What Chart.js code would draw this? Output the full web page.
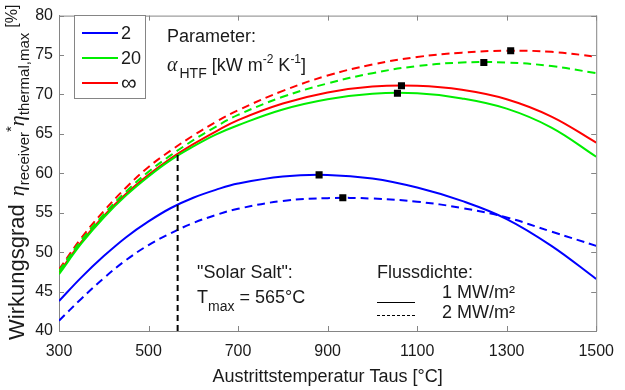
<!DOCTYPE html>
<html>
<head>
<meta charset="utf-8">
<script src="https://cdn.jsdelivr.net/npm/chart.js@4.4.1/dist/chart.umd.min.js"></script>
<style>
  html, body { margin: 0; padding: 0; background: #fff; }
  #wrap { width: 625px; height: 390px; }
</style>
</head>
<body>
<div id="wrap"><canvas id="chart" width="625" height="390"></canvas></div>
<script>
// Austrittstemperatur Taus in °C
const temps = [300, 350, 400, 450, 500, 550, 600, 650, 700, 800, 900, 1000, 1100, 1200, 1300, 1400, 1500];

// Wirkungsgrad in %, Flussdichte 1 MW/m² (durchgezogen)
const blue1  = [43.8, 46.8, 49.5, 51.9, 53.9, 55.6, 56.9, 57.9, 58.7, 59.6, 59.8, 59.35, 58.2, 56.5, 54.2, 50.8, 46.6];
const green1 = [47.2, 51.1, 54.4, 57.2, 59.6, 61.7, 63.4, 64.9, 66.1, 68.1, 69.4, 70.1, 70.15, 69.5, 68.2, 65.8, 62.1];
const red1   = [47.4, 51.3, 54.6, 57.4, 59.8, 61.9, 63.7, 65.3, 66.75, 68.85, 70.25, 71.0, 71.1, 70.6, 69.4, 67.2, 63.9];
// Flussdichte 2 MW/m² (gestrichelt)
const blue2  = [41.3, 44.1, 46.7, 49.0, 50.9, 52.4, 53.7, 54.7, 55.5, 56.5, 56.85, 56.8, 56.4, 55.6, 54.4, 52.6, 50.8];
const green2 = [47.6, 51.5, 54.8, 57.7, 60.2, 62.3, 64.2, 65.9, 67.4, 69.7, 71.4, 72.7, 73.6, 74.05, 74.05, 73.6, 72.7];
const red2   = [47.8, 51.8, 55.2, 58.2, 60.8, 62.9, 64.8, 66.5, 68.0, 70.45, 72.4, 73.8, 74.75, 75.3, 75.55, 75.4, 74.8];

// Maxima (schwarze Quadrate)
const maxT   = [881, 934, 1056, 1065, 1249, 1309];
const maxEta = [59.8, 56.9, 70.15, 71.1, 74.05, 75.55];

// Solar Salt Tmax
const saltT = [565, 565];
const saltEta = [40, 62.4];

const xTicks = [300, 500, 700, 900, 1100, 1300, 1500];
const yTicks = [40, 45, 50, 55, 60, 65, 70, 75, 80];

const alphaLabels = ['2', '20', '\u221E'];
const fluxLabels = ['1 MW/m\u00B2', '2 MW/m\u00B2'];

const BLUE = '#0000ff', GREEN = '#00ee00', RED = '#ff0000';
const axisGrey = '#858585';
const txt = '#1a1a1a';
const SANS = '"Liberation Sans", Arial, sans-serif';
const SERIF = '"Liberation Serif", "Times New Roman", serif';

Chart.defaults.font.family = SANS;

const pts = (xs, ys) => xs.map((x, i) => ({ x: x, y: ys[i] }));

function curve(label, ys, color, dashed) {
    return {
        label: label,
        data: pts(temps, ys),
        borderColor: color,
        borderWidth: 2,
        borderDash: dashed ? [8, 5] : [],
        pointRadius: 0,
        tension: 0.4,
        fill: false
    };
}

// schreibt Text mit Hoch-/Tiefstellungen stueckweise
function rich(ctx, x, y, parts) {
    for (const p of parts) {
        ctx.font = p.f;
        ctx.fillText(p.t, x, y + (p.dy || 0));
        x += ctx.measureText(p.t).width + (p.gap || 0);
    }
}

const extras = {
    id: 'extras',
    afterDraw(chart) {
        const ctx = chart.ctx;
        const a = chart.chartArea;
        const xs = chart.scales.x, ys = chart.scales.y;
        ctx.save();

        // Rahmen oben/rechts + Ticks nach innen
        ctx.strokeStyle = axisGrey;
        ctx.lineWidth = 1;
        ctx.beginPath();
        ctx.moveTo(a.left, a.top + 0.5); ctx.lineTo(a.right + 0.5, a.top + 0.5);
        ctx.moveTo(a.right + 0.5, a.top); ctx.lineTo(a.right + 0.5, a.bottom);
        xTicks.forEach(v => {
            const px = Math.round(xs.getPixelForValue(v)) + 0.5;
            ctx.moveTo(px, a.bottom); ctx.lineTo(px, a.bottom - 5);
            ctx.moveTo(px, a.top); ctx.lineTo(px, a.top + 5);
        });
        yTicks.forEach(v => {
            const py = Math.round(ys.getPixelForValue(v)) + 0.5;
            ctx.moveTo(a.left, py); ctx.lineTo(a.left + 5, py);
            ctx.moveTo(a.right, py); ctx.lineTo(a.right - 5, py);
        });
        ctx.stroke();

        // Legende alpha_HTF
        ctx.fillStyle = '#fff';
        ctx.fillRect(74.5, 15.5, 71, 83);
        ctx.strokeStyle = axisGrey;
        ctx.strokeRect(74.5, 15.5, 71, 83);
        const cols = [BLUE, GREEN, RED];
        ctx.lineWidth = 2;
        ctx.textBaseline = 'middle';
        alphaLabels.forEach((l, i) => {
            const y = 33 + i * 25;
            ctx.strokeStyle = cols[i];
            ctx.beginPath(); ctx.moveTo(82, y); ctx.lineTo(118, y); ctx.stroke();
            ctx.fillStyle = txt;
            ctx.font = (i === 2 ? '22px ' : '18px ') + SANS;
            ctx.fillText(l, 121, y + 1);
        });

        ctx.textBaseline = 'alphabetic';
        ctx.fillStyle = txt;
        ctx.font = '18px ' + SANS;
        ctx.fillText('Parameter:', 167, 42);
        rich(ctx, 167, 71, [
            { t: '\u03B1', f: 'italic 20px ' + SERIF, gap: 2 },
            { t: 'HTF', f: '14px ' + SANS, dy: 7 },
            { t: ' [kW m', f: '18px ' + SANS },
            { t: '-2', f: '12px ' + SANS, dy: -8 },
            { t: ' K', f: '18px ' + SANS },
            { t: '-1', f: '12px ' + SANS, dy: -8 },
            { t: ']', f: '18px ' + SANS }
        ]);

        ctx.font = '18px ' + SANS;
        ctx.fillText('"Solar Salt":', 197, 278);
        rich(ctx, 197, 303, [
            { t: 'T', f: '18px ' + SANS },
            { t: 'max', f: '14px ' + SANS, dy: 8 },
            { t: ' = 565\u00B0C', f: '18px ' + SANS }
        ]);

        // Flussdichte
        ctx.font = '18px ' + SANS;
        ctx.fillText('Flussdichte:', 377, 278);
        ctx.fillText(fluxLabels[0], 442, 298);
        ctx.fillText(fluxLabels[1], 442, 318);
        ctx.strokeStyle = '#000';
        ctx.lineWidth = 1;
        ctx.beginPath(); ctx.moveTo(377, 302.5); ctx.lineTo(415, 302.5); ctx.stroke();
        ctx.setLineDash([3, 2]);
        ctx.beginPath(); ctx.moveTo(377, 315.5); ctx.lineTo(415, 315.5); ctx.stroke();
        ctx.setLineDash([]);

        // y-Achsentitel
        ctx.translate(24, 340);
        ctx.rotate(-Math.PI / 2);
        ctx.fillStyle = txt;
        rich(ctx, 0, 0, [
            { t: 'Wirkungsgrad', f: '22px ' + SANS, gap: 8 },
            { t: '\u03B7', f: 'italic 22px ' + SERIF },
            { t: 'receiver', f: '15px ' + SANS, dy: 5 },
            { t: '*', f: '15px ' + SANS, dy: -8 },
            { t: '\u03B7', f: 'italic 22px ' + SERIF },
            { t: 'thermal,max', f: '15px ' + SANS, dy: 5, gap: 5 },
            { t: '[%]', f: '16px ' + SANS, dy: -7 }
        ]);
        ctx.restore();
    }
};

new Chart(document.getElementById('chart'), {
    type: 'line',
    data: {
        datasets: [
            {
                label: 'Maxima',
                data: pts(maxT, maxEta),
                showLine: false,
                pointStyle: 'rect',
                pointRadius: 5,
                pointBackgroundColor: '#000',
                pointBorderWidth: 0
            },
            {
                label: 'Tmax Solar Salt',
                data: pts(saltT, saltEta),
                borderColor: '#000',
                borderWidth: 2,
                borderDash: [6, 4],
                pointRadius: 0
            },
            curve('2 (1 MW/m²)', blue1, BLUE, false),
            curve('2 (2 MW/m²)', blue2, BLUE, true),
            curve('20 (1 MW/m²)', green1, GREEN, false),
            curve('20 (2 MW/m²)', green2, GREEN, true),
            curve('∞ (1 MW/m²)', red1, RED, false),
            curve('∞ (2 MW/m²)', red2, RED, true)
        ]
    },
    options: {
        responsive: false,
        animation: false,
        layout: { padding: { top: 13, right: 23, left: 0, bottom: 0 } },
        plugins: { legend: { display: false }, tooltip: { enabled: false } },
        scales: {
            x: {
                type: 'linear',
                min: 300,
                max: 1500,
                afterBuildTicks: s => { s.ticks = xTicks.map(v => ({ value: v })); },
                afterFit: s => { s.height = 59; },
                grid: { display: false, drawTicks: false },
                border: { display: true, color: axisGrey },
                ticks: { autoSkip: false, maxRotation: 0, padding: 11, color: txt, font: { size: 16 }, callback: v => String(v) },
                title: {
                    display: true,
                    text: 'Austrittstemperatur Taus [°C]',
                    color: txt,
                    font: { size: 18 },
                    padding: { top: 0, bottom: 2 }
                }
            },
            y: {
                type: 'linear',
                min: 40,
                max: 80,
                afterBuildTicks: s => { s.ticks = yTicks.map(v => ({ value: v })); },
                afterFit: s => { s.width = 59; },
                grid: { display: false, drawTicks: false },
                border: { display: true, color: axisGrey },
                ticks: { autoSkip: false, padding: 6, color: txt, font: { size: 16 }, callback: v => String(v) }
            }
        }
    },
    plugins: [extras]
});
</script>
</body>
</html>
